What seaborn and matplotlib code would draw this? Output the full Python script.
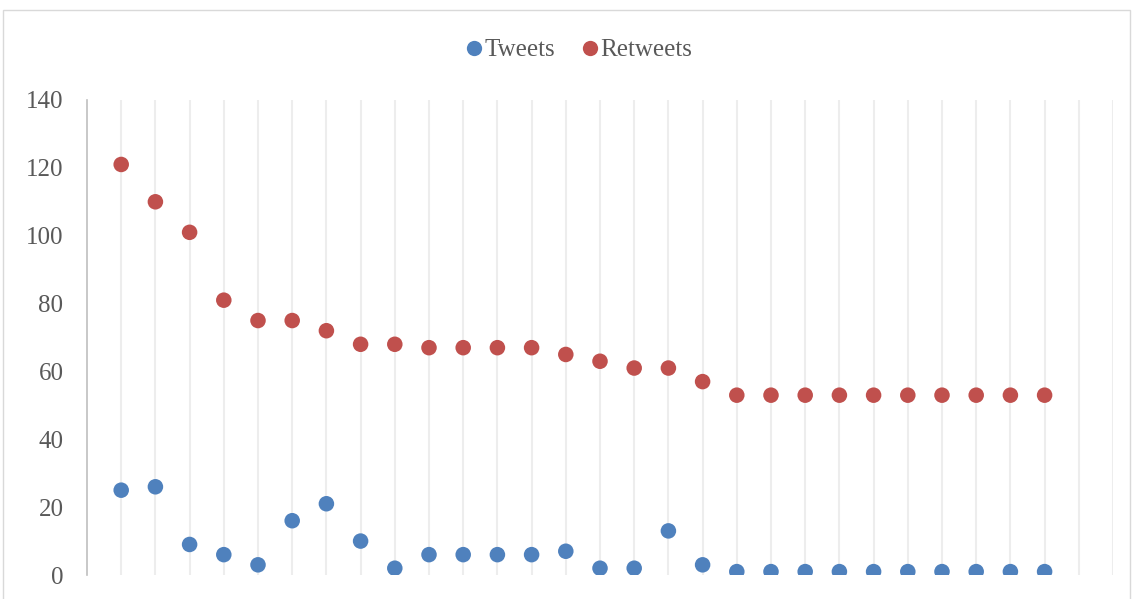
import matplotlib
matplotlib.use("Agg")
import matplotlib.pyplot as plt
import seaborn as sns
import pandas as pd
from matplotlib.patches import Rectangle

# Daily counts per rank
rank = list(range(1, 29))
tweets = [25, 26, 9, 6, 3, 16, 21, 10, 2, 6, 6, 6, 6, 7, 2, 2, 13, 3,
          1, 1, 1, 1, 1, 1, 1, 1, 1, 1]
retweets = [121, 110, 101, 81, 75, 75, 72, 68, 68, 67, 67, 67, 67, 65, 63, 61, 61, 57,
            53, 53, 53, 53, 53, 53, 53, 53, 53, 53]
series_names = ["Tweets", "Retweets"]
y_ticks = [0, 20, 40, 60, 80, 100, 120, 140]

df = pd.DataFrame({
    "rank": rank * 2,
    "count": tweets + retweets,
    "series": [series_names[0]] * len(rank) + [series_names[1]] * len(rank),
})

sns.set_style("white")
plt.rcParams["font.family"] = ["Liberation Serif", "DejaVu Serif"]

text_color = "#595959"
fig = plt.figure(figsize=(11.34, 5.99), dpi=100)
ax = fig.add_axes([87 / 1134, 24 / 599, (1113 - 87) / 1134, 475 / 599])

# outer chart frame
fig.patches.append(Rectangle((3 / 1134, -0.05), 1127 / 1134, (589 / 599) + 0.05,
                             transform=fig.transFigure, fill=False,
                             edgecolor="#D9D9D9", linewidth=1.0))

sns.scatterplot(data=df, x="rank", y="count", hue="series",
                palette={"Tweets": "#4F81BD", "Retweets": "#C0504D"},
                s=125, edgecolor="none", ax=ax, zorder=3, legend=False)

ax.set_xlim(0, 30)
ax.set_ylim(0, 140)
ax.set_xticks(range(1, 31))
ax.set_yticks(y_ticks)
ax.xaxis.grid(True, color="#EDEDED", linewidth=1.5)
ax.yaxis.grid(False)
ax.tick_params(axis="x", length=0, labelbottom=False)
ax.tick_params(axis="y", direction="out", length=6, width=1.2, color="#BFBFBF",
               labelsize=18, labelcolor=text_color, pad=11)
for side in ["top", "right", "bottom"]:
    ax.spines[side].set_visible(False)
ax.spines["left"].set_color("#BFBFBF")
ax.spines["left"].set_linewidth(1.2)
ax.set_xlabel("")
ax.set_ylabel("")

handles = [plt.Line2D([], [], marker="o", linestyle="none", markersize=11,
                      markerfacecolor=c, markeredgecolor="none")
           for c in ["#4F81BD", "#C0504D"]]
fig.legend(handles, series_names, loc="center", bbox_to_anchor=(578 / 1134, 1 - 50 / 599),
           ncol=2, frameon=False, fontsize=18, labelcolor=text_color,
           handletextpad=0.0, columnspacing=1.0, handlelength=0.8)

fig.savefig("out.png", dpi=100)
